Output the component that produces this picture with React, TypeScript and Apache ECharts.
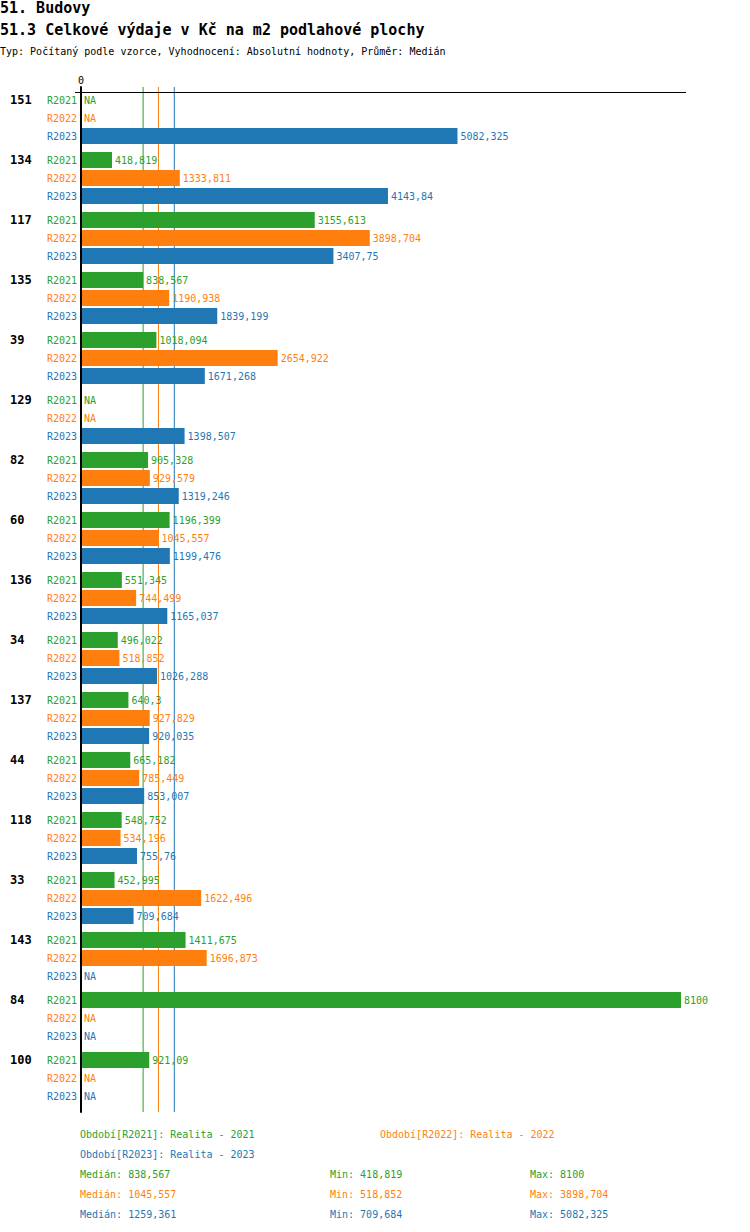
import React, { useEffect, useRef } from "react";
import * as echarts from "echarts";

const groups = ["151", "134", "117", "135", "39", "129", "82", "60", "136", "34", "137", "44", "118", "33", "143", "84", "100"];
const seriesNames = ["R2021", "R2022", "R2023"];
const r2021 = [null, 418.819, 3155.613, 838.567, 1018.094, null, 905.328, 1196.399, 551.345, 496.022, 640.3, 665.182, 548.752, 452.995, 1411.675, 8100, 921.09];
const r2022 = [null, 1333.811, 3898.704, 1190.938, 2654.922, null, 929.579, 1045.557, 744.499, 518.852, 927.829, 785.449, 534.196, 1622.496, 1696.873, null, null];
const r2023 = [5082.325, 4143.84, 3407.75, 1839.199, 1671.268, 1398.507, 1319.246, 1199.476, 1165.037, 1026.288, 920.035, 853.007, 755.76, 709.684, null, null, null];
const medians = [838.567, 1045.557, 1259.361];
const mins = [418.819, 518.852, 709.684];
const maxs = [8100, 3898.704, 5082.325];
const periodLabels = ["Období[R2021]: Realita - 2021", "Období[R2022]: Realita - 2022", "Období[R2023]: Realita - 2023"];
const colors = ["#2ca02c", "#ff7f0e", "#1f77b4"];
const xMax = 8100;

const FONT = "'DejaVu Sans Mono', 'Liberation Mono', monospace";
const fmt = (v: number) => String(v).replace(".", ",");

export default function App() {
  const ref = useRef<HTMLDivElement>(null);
  useEffect(() => {
    if (!ref.current) return;
    const chart = echarts.init(ref.current, null, { renderer: "svg" });
    const all = [r2021, r2022, r2023];
    const barCommon = {
      type: "bar",
      barWidth: 16,
      barGap: "12.5%",
      barCategoryGap: 8,
    };
    const valueSeries = all.map((arr, i) => ({
      ...barCommon,
      name: seriesNames[i],
      xAxisIndex: 0,
      yAxisIndex: 0,
      z: 3,
      itemStyle: { color: colors[i] },
      label: {
        show: true,
        position: "right",
        distance: 3,
        color: colors[i],
        fontFamily: FONT,
        fontSize: 10,
        formatter: (p: any) => (p.data && p.data.na ? "NA" : fmt(p.value)),
      },
      data: arr.map((v) => (v === null ? { value: 0, na: true } : { value: v })),
    }));
    const nameSeries = all.map((arr, i) => ({
      ...barCommon,
      name: seriesNames[i] + "_lbl",
      xAxisIndex: 0,
      yAxisIndex: 1,
      z: 3,
      itemStyle: { color: "rgba(0,0,0,0)" },
      label: {
        show: true,
        position: "left",
        distance: 4,
        color: colors[i],
        fontFamily: FONT,
        fontSize: 10,
        formatter: seriesNames[i],
      },
      data: arr.map(() => 0),
    }));
    const medianSeries = medians.map((m, i) => ({
      type: "line",
      name: "median_" + seriesNames[i],
      xAxisIndex: 1,
      yAxisIndex: 2,
      z: 1,
      silent: true,
      symbol: "none",
      lineStyle: { color: colors[i], width: 1 },
      data: [
        [m, 0],
        [m, 1],
      ],
    }));

    const txt = (x: number, y: number, text: string, color: string, size = 10, bold = false) => ({
      type: "text",
      x,
      y,
      style: {
        text,
        fill: color,
        font: `${bold ? "bold " : ""}${size}px ${FONT}`,
        textVerticalAlign: "middle",
        verticalAlign: "middle",
      },
    });

    const graphics: any[] = [
      txt(0, 8, "51. Budovy", "#000", 15, true),
      txt(0, 30, "51.3 Celkové výdaje v Kč na m2 podlahové plochy", "#000", 15, true),
      txt(0, 51, "Typ: Počítaný podle vzorce, Vyhodnocení: Absolutní hodnoty, Průměr: Medián", "#000", 10),
      {
        type: "line",
        shape: { x1: 75, y1: 92.5, x2: 686, y2: 92.5 },
        style: { stroke: "#000", lineWidth: 1 },
        z: 5,
      },
      txt(80, 1134, periodLabels[0], colors[0]),
      txt(380, 1134, periodLabels[1], colors[1]),
      txt(80, 1154, periodLabels[2], colors[2]),
    ];
    for (let i = 0; i < 3; i++) {
      const y = 1174 + i * 20;
      graphics.push(txt(80, y, "Medián: " + fmt(medians[i]), colors[i]));
      graphics.push(txt(330, y, "Min: " + fmt(mins[i]), colors[i]));
      graphics.push(txt(530, y, "Max: " + fmt(maxs[i]), colors[i]));
    }

    chart.setOption({
      animation: false,
      grid: [
        { left: 81, width: 600, top: 88, height: 1020 },
        { left: 81, width: 600, top: 87, height: 1025 },
      ],
      xAxis: [
        {
          gridIndex: 0,
          type: "value",
          position: "top",
          min: 0,
          max: xMax,
          axisLine: { show: false },
          axisTick: { show: false },
          splitLine: { show: false },
          axisLabel: {
            margin: 3,
            fontFamily: FONT,
            fontSize: 10,
            color: "#000",
            formatter: (v: number) => (v === 0 ? "0" : ""),
          },
        },
        { gridIndex: 1, type: "value", min: 0, max: xMax, show: false },
      ],
      yAxis: [
        {
          gridIndex: 0,
          type: "category",
          inverse: true,
          data: groups,
          axisLine: { show: false },
          axisTick: { show: false },
          axisLabel: {
            margin: 71,
            align: "left",
            verticalAlign: "middle",
            fontFamily: FONT,
            fontSize: 12,
            fontWeight: "bold",
            color: "#000",
            lineHeight: 18,
            formatter: (v: string) => v + "\n \n ",
          },
        },
        { gridIndex: 0, type: "category", inverse: true, data: groups, show: false },
        {
          gridIndex: 1,
          type: "value",
          min: 0,
          max: 1,
          z: 10,
          axisLine: { show: true, onZero: false, lineStyle: { color: "#000", width: 2 } },
          axisTick: { show: false },
          axisLabel: { show: false },
          splitLine: { show: false },
        },
      ],
      series: [...medianSeries, ...valueSeries, ...nameSeries],
      graphic: graphics,
    });
    return () => chart.dispose();
  }, []);
  return <div ref={ref} style={{ position: "absolute", left: 0, top: 0, width: 750, height: 1232 }} />;
}
